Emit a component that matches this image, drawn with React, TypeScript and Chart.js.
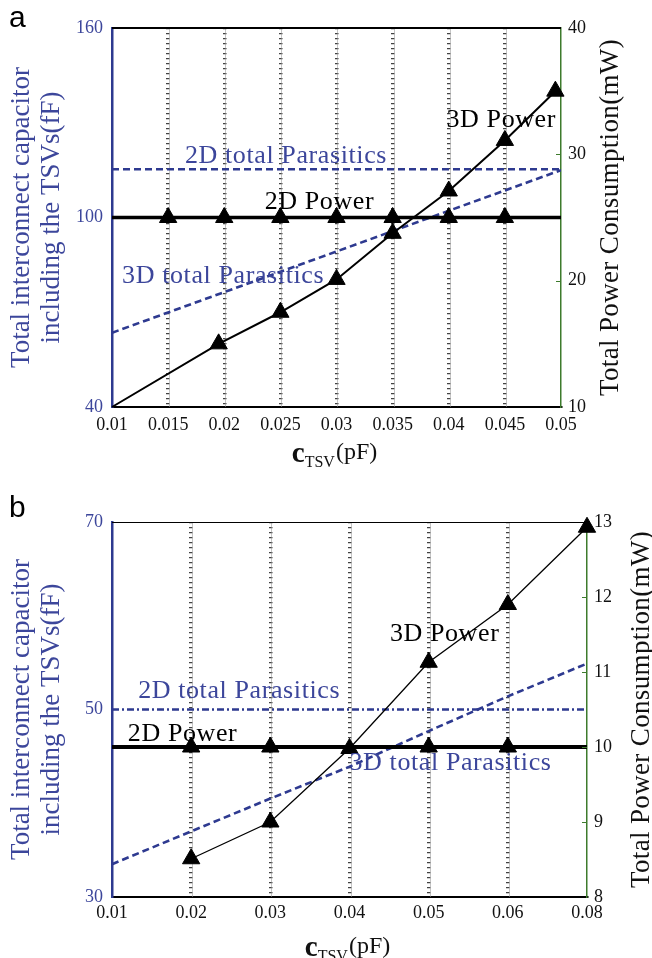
import React, { useEffect, useRef } from 'react';
import { Chart, registerables } from 'chart.js';

Chart.register(...registerables);

// ---------------- Panel a data ----------------
const xTickValsA = [0.01, 0.015, 0.02, 0.025, 0.03, 0.035, 0.04, 0.045, 0.05];
const xTickLabelsA = ['0.01', '0.015', '0.02', '0.025', '0.03', '0.035', '0.04', '0.045', '0.05'];
const xEdgesA = [0.01, 0.05];
const parasitic2DA = [115.3, 115.3];
const parasitic3DA = [63.5, 115.0];
const power2DA = [25, 25];
const power2DMarkXA = [0.015, 0.02, 0.025, 0.03, 0.035, 0.04, 0.045];
const power2DMarkA = [25, 25, 25, 25, 25, 25, 25];
const power3DXA = [0.01, 0.0195, 0.025, 0.03, 0.035, 0.04, 0.045, 0.0495];
const power3DA = [10, 15.0, 17.5, 20.1, 23.75, 27.1, 31.1, 35.0];
const yLeftTicksA = [40, 100, 160];
const yRightTicksA = [10, 20, 30, 40];

// ---------------- Panel b data ----------------
const xLabelsB = ['0.01', '0.02', '0.03', '0.04', '0.05', '0.06', '0.08'];
const parasitic2DB = [50, 50, 50, 50, 50, 50, 50];
const parasitic3DB = [33.5, 37.0, 40.5, 43.9, 47.7, 51.4, 54.9];
const power2DB = [10, 10, 10, 10, 10, 10, 10];
const power2DMarkB = [null, 10, 10, null, 10, 10, null];
const power3DB = [null, 8.51, 9.0, 9.98, 11.13, 11.9, 12.93];
const yLeftTicksB = [30, 50, 70];
const yRightTicksB = [8, 9, 10, 11, 12, 13];

// ---------------- text ----------------
const leftTitle = ['Total interconnect capacitor', 'including the TSVs(fF)'];
const rightTitle = 'Total Power Consumption(mW)';

// ---------------- styles ----------------
const BLUE_LINE = '#2e3a90';
const BLUE_TEXT = '#3c469b';
const GREEN = '#3d7b2c';
const GRID = 'rgba(45,45,45,0.9)';
const GRID_UNDER = 'rgba(150,150,150,0.55)';
const SERIF = '"Liberation Serif", "Times New Roman", serif';
const SANS = '"Liberation Sans", Arial, sans-serif';

type Note = { text: string; x: number; y: number; color: string };

const notesA: Note[] = [
  { text: '2D total Parasitics', x: 0.0165, y: 117.4, color: BLUE_TEXT },
  { text: '2D Power', x: 0.0236, y: 102.6, color: '#000' },
  { text: '3D total Parasitics', x: 0.0109, y: 79.2, color: BLUE_TEXT },
  { text: '3D Power', x: 0.0398, y: 128.8, color: '#000' },
];
const notesB: Note[] = [
  { text: '2D total Parasitics', x: 0.33, y: 51.2, color: BLUE_TEXT },
  { text: '2D Power', x: 0.2, y: 46.6, color: '#000' },
  { text: '3D total Parasitics', x: 3.0, y: 43.6, color: BLUE_TEXT },
  { text: '3D Power', x: 3.51, y: 57.3, color: '#000' },
];

type Spec = {
  letter: string;
  width: number;
  height: number;
  areaTop: number;
  areaBottom: number;
  leftW: number;
  rightW: number;
  xType: 'linear' | 'category';
  datasets: any[];
  labels?: string[];
  yL: number[];
  yR: number[];
  notes: Note[];
  topWidth: number;
  rightTitleX: number;
  bottomBase: number;
  xPad: number;
};

function decor(spec: Spec) {
  return {
    id: 'decor' + spec.letter,
    beforeDatasetsDraw(chart: any) {
      // faint grey core under the dashed vertical grid lines
      const { ctx, chartArea: a, scales } = chart;
      const x = scales.x;
      ctx.save();
      ctx.strokeStyle = GRID_UNDER;
      ctx.lineWidth = 1;
      x.ticks.forEach((t: any, i: number) => {
        if (i === 0 || i === x.ticks.length - 1) return;
        const px = Math.round(x.getPixelForTick(i)) + 1.5;
        ctx.beginPath();
        ctx.moveTo(px, a.top);
        ctx.lineTo(px, a.bottom);
        ctx.stroke();
      });
      ctx.restore();
    },
    afterDatasetsDraw(chart: any) {
      const { ctx, chartArea: a, scales } = chart;
      ctx.save();
      // top frame line
      ctx.strokeStyle = '#000';
      ctx.lineWidth = spec.topWidth;
      const ty = spec.topWidth % 2 === 1 ? a.top + 0.5 : a.top;
      ctx.beginPath();
      ctx.moveTo(a.left, ty);
      ctx.lineTo(a.right, ty);
      ctx.stroke();
      // inward ticks on right axis
      const yR = scales.yR;
      ctx.strokeStyle = GREEN;
      ctx.lineWidth = 1;
      yR.ticks.forEach((t: any, i: number) => {
        if (i === 0 || i === yR.ticks.length - 1) return;
        const py = Math.round(yR.getPixelForValue(t.value)) + 0.5;
        ctx.beginPath();
        ctx.moveTo(a.right - 5, py);
        ctx.lineTo(a.right, py);
        ctx.stroke();
      });
      // series labels
      ctx.font = `26px ${SERIF}`;
      ctx.textAlign = 'left';
      ctx.textBaseline = 'alphabetic';
      (ctx as any).letterSpacing = '0.6px';
      spec.notes.forEach((n) => {
        ctx.fillStyle = n.color;
        ctx.fillText(n.text, scales.x.getPixelForValue(n.x), scales.yL.getPixelForValue(n.y));
      });
      (ctx as any).letterSpacing = '0px';
      ctx.restore();
    },
    afterDraw(chart: any) {
      const { ctx, chartArea: a } = chart;
      ctx.save();
      // right axis title (reads bottom to top)
      ctx.translate(spec.rightTitleX, (a.top + a.bottom) / 2);
      ctx.rotate(-Math.PI / 2);
      ctx.font = `27px ${SERIF}`;
      (ctx as any).letterSpacing = '0.35px';
      ctx.fillStyle = '#111';
      ctx.textAlign = 'center';
      ctx.textBaseline = 'middle';
      ctx.fillText(rightTitle, 0, 0);
      (ctx as any).letterSpacing = '0px';
      ctx.restore();

      // bottom title c_TSV(pF)
      ctx.save();
      ctx.fillStyle = '#111';
      ctx.textBaseline = 'alphabetic';
      ctx.textAlign = 'left';
      const fc = `bold 29px ${SERIF}`;
      const fs = `16px ${SERIF}`;
      const fp = `24px ${SERIF}`;
      ctx.font = fc;
      const wc = ctx.measureText('c').width;
      ctx.font = fs;
      const ws = ctx.measureText('TSV').width;
      ctx.font = fp;
      const wp = ctx.measureText('(pF)').width;
      const total = wc + ws + wp + 1;
      const x0 = (a.left + a.right) / 2 - total / 2 - 2;
      const b = spec.bottomBase;
      ctx.font = fc;
      ctx.fillText('c', x0, b);
      ctx.font = fs;
      ctx.fillText('TSV', x0 + wc, b + 5);
      ctx.font = fp;
      ctx.fillText('(pF)', x0 + wc + ws + 1, b - 3);
      // panel letter
      ctx.font = `30px ${SANS}`;
      ctx.fillStyle = '#000';
      ctx.fillText(spec.letter, 9, spec.letter === 'a' ? 27 : 47);
      ctx.restore();
    },
  };
}

function buildConfig(spec: Spec): any {
  const nX = spec.xType === 'linear' ? xTickValsA.length : (spec.labels as string[]).length;
  const gridColor = (c: any) => (c.index === 0 || c.index === nX - 1 ? 'rgba(0,0,0,0)' : GRID);
  const xScale: any = {
    type: spec.xType,
    grid: { display: true, color: gridColor, lineWidth: 3.5, drawTicks: false },
    border: { display: true, color: '#000', width: 2, dash: [1.3, 3.7] },
    ticks: {
      color: '#111',
      font: { family: SERIF, size: 18 },
      padding: spec.xPad,
      autoSkip: false,
      maxRotation: 0,
    },
    afterFit: (s: any) => {
      s.height = spec.height - spec.areaBottom;
    },
  };
  if (spec.xType === 'linear') {
    xScale.min = xEdgesA[0];
    xScale.max = xEdgesA[1];
    xScale.afterBuildTicks = (s: any) => {
      s.ticks = xTickValsA.map((v) => ({ value: v }));
    };
    xScale.ticks.callback = (_v: any, i: number) => xTickLabelsA[i];
  }
  return {
    type: 'line',
    data: { labels: spec.labels, datasets: spec.datasets },
    options: {
      animation: false,
      responsive: false,
      devicePixelRatio: 1,
      events: [],
      layout: { padding: { top: spec.areaTop, left: 0, right: 0, bottom: 0 } },
      plugins: { legend: { display: false }, tooltip: { enabled: false }, title: { display: false } },
      scales: {
        x: xScale,
        yL: {
          type: 'linear',
          position: 'left',
          min: spec.yL[0],
          max: spec.yL[spec.yL.length - 1],
          afterBuildTicks: (s: any) => {
            s.ticks = spec.yL.map((v) => ({ value: v }));
          },
          grid: { display: false, drawTicks: false },
          border: { display: true, color: BLUE_LINE, width: 2.5 },
          ticks: { color: BLUE_TEXT, font: { family: SERIF, size: 18 }, padding: 9 },
          title: {
            display: true,
            text: leftTitle,
            color: BLUE_TEXT,
            font: { family: SERIF, size: 27, lineHeight: '30px' },
            padding: { top: 7, bottom: 0 },
          },
          afterFit: (s: any) => {
            s.width = spec.leftW;
          },
        },
        yR: {
          type: 'linear',
          position: 'right',
          min: spec.yR[0],
          max: spec.yR[spec.yR.length - 1],
          afterBuildTicks: (s: any) => {
            s.ticks = spec.yR.map((v) => ({ value: v }));
          },
          grid: { display: false, drawTicks: false },
          border: { display: true, color: GREEN, width: 1.5 },
          ticks: { color: '#111', font: { family: SERIF, size: 18 }, padding: 7 },
          afterFit: (s: any) => {
            s.width = spec.rightW;
          },
        },
      },
    },
    plugins: [decor(spec)],
  };
}

const pts = (xs: number[], ys: number[]) => xs.map((x, i) => ({ x, y: ys[i] }));

const tri = {
  pointStyle: 'triangle',
  backgroundColor: '#000',
  pointBackgroundColor: '#000',
  pointBorderColor: '#000',
  pointBorderWidth: 1,
};

const datasetsA = [
  {
    label: '3D Power',
    data: pts(power3DXA, power3DA),
    yAxisID: 'yR',
    borderColor: '#000',
    borderWidth: 2,
    ...tri,
    pointRadius: power3DA.map((_, i) => (i === 0 ? 0 : 10)),
    clip: false,
  },
  {
    label: '2D Power markers',
    data: pts(power2DMarkXA, power2DMarkA),
    yAxisID: 'yR',
    showLine: false,
    borderColor: '#000',
    ...tri,
    pointRadius: 10,
    clip: false,
  },
  {
    label: '2D Power',
    data: pts(xEdgesA, power2DA),
    yAxisID: 'yR',
    borderColor: '#000',
    borderWidth: 3.5,
    pointRadius: 0,
  },
  {
    label: '3D total Parasitics',
    data: pts(xEdgesA, parasitic3DA),
    yAxisID: 'yL',
    borderColor: BLUE_LINE,
    borderWidth: 2.6,
    borderDash: [7, 4],
    pointRadius: 0,
  },
  {
    label: '2D total Parasitics',
    data: pts(xEdgesA, parasitic2DA),
    yAxisID: 'yL',
    borderColor: BLUE_LINE,
    borderWidth: 2.6,
    borderDash: [7, 4],
    pointRadius: 0,
  },
];

const datasetsB = [
  {
    label: '3D Power',
    data: power3DB,
    yAxisID: 'yR',
    borderColor: '#000',
    borderWidth: 1.3,
    ...tri,
    pointRadius: 10,
    clip: false,
  },
  {
    label: '2D Power markers',
    data: power2DMarkB,
    yAxisID: 'yR',
    showLine: false,
    borderColor: '#000',
    ...tri,
    pointRadius: 10,
    clip: false,
  },
  {
    label: '2D Power',
    data: power2DB,
    yAxisID: 'yR',
    borderColor: '#000',
    borderWidth: 3.8,
    pointRadius: 0,
  },
  {
    label: '3D total Parasitics',
    data: parasitic3DB,
    yAxisID: 'yL',
    borderColor: BLUE_LINE,
    borderWidth: 2.6,
    borderDash: [7, 4],
    pointRadius: 0,
  },
  {
    label: '2D total Parasitics',
    data: parasitic2DB,
    yAxisID: 'yL',
    borderColor: BLUE_LINE,
    borderWidth: 2.6,
    borderDash: [7, 3, 2, 3],
    pointRadius: 0,
  },
];

const specA: Spec = {
  letter: 'a',
  width: 652,
  height: 470,
  areaTop: 28,
  areaBottom: 407,
  leftW: 112,
  rightW: 91,
  xType: 'linear',
  datasets: datasetsA,
  yL: yLeftTicksA,
  yR: yRightTicksA,
  notes: notesA,
  topWidth: 2,
  rightTitleX: 611,
  bottomBase: 462,
  xPad: 7,
};

const specB: Spec = {
  letter: 'b',
  width: 652,
  height: 488,
  areaTop: 52,
  areaBottom: 427,
  leftW: 112,
  rightW: 65,
  xType: 'category',
  datasets: datasetsB,
  labels: xLabelsB,
  yL: yLeftTicksB,
  yR: yRightTicksB,
  notes: notesB,
  topWidth: 1,
  rightTitleX: 642,
  bottomBase: 486,
  xPad: 5,
};

function Panel({ spec, top }: { spec: Spec; top: number }) {
  const ref = useRef<HTMLCanvasElement | null>(null);
  useEffect(() => {
    if (!ref.current) return;
    const chart = new Chart(ref.current, buildConfig(spec));
    return () => chart.destroy();
  }, [spec]);
  return (
    <canvas
      ref={ref}
      width={spec.width}
      height={spec.height}
      style={{ position: 'absolute', left: 0, top, width: spec.width, height: spec.height }}
    />
  );
}

export default function App() {
  return (
    <div style={{ position: 'absolute', left: 0, top: 0, width: 652, height: 958, background: '#fff', overflow: 'hidden' }}>
      <Panel spec={specA} top={0} />
      <Panel spec={specB} top={470} />
    </div>
  );
}
